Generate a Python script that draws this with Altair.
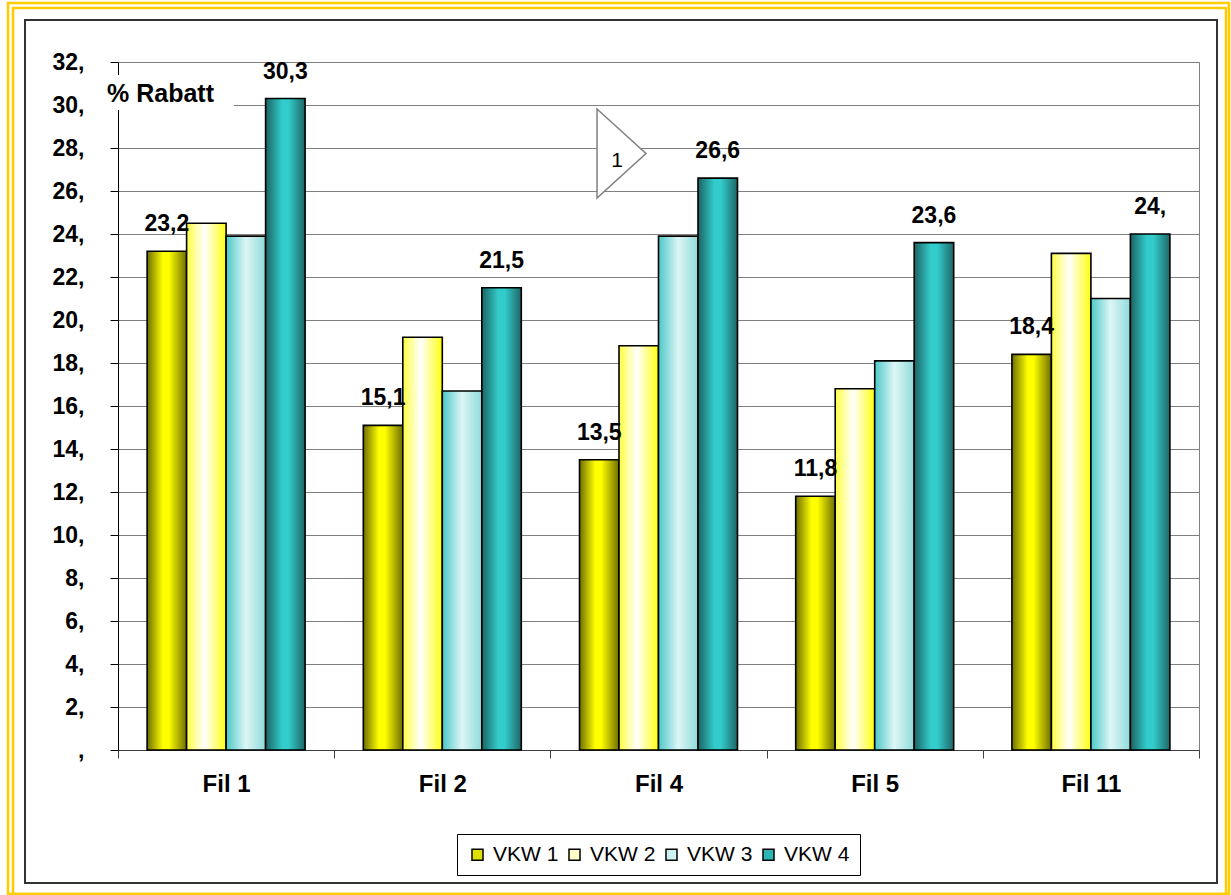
import altair as alt
import pandas as pd

# Discount per branch and calendar week
groups = ["Fil 1", "Fil 2", "Fil 4", "Fil 5", "Fil 11"]
series = ["VKW 1", "VKW 2", "VKW 3", "VKW 4"]
vkw1 = [23.2, 15.1, 13.5, 11.8, 18.4]
vkw2 = [24.5, 19.2, 18.8, 16.8, 23.1]
vkw3 = [23.9, 16.7, 23.9, 18.1, 21.0]
vkw4 = [30.3, 21.5, 26.6, 23.6, 24.0]
labelled = ["VKW 1", "VKW 4"]
y_ticks = list(range(0, 33, 2))

legend_colors = ["#E0E000", "#FFFFC8", "#CCF2F2", "#2BB5B5"]
gradients = {
    "VKW 1": [(0, "#6E6E00"), (0.4, "#FFFF00"), (0.55, "#FFFF00"), (1, "#6E6E00")],
    "VKW 2": [(0, "#FFFF40"), (0.45, "#FFFFFF"), (1, "#FFFF10")],
    "VKW 3": [(0, "#4CC8C8"), (0.5, "#DDF6F6"), (1, "#8FDADA")],
    "VKW 4": [(0, "#1C6363"), (0.42, "#33CCCC"), (0.58, "#33CCCC"), (1, "#1F6666")],
}

rows = []
for s, vals in zip(series, [vkw1, vkw2, vkw3, vkw4]):
    for g, v in zip(groups, vals):
        rows.append({"fil": g, "series": s, "value": v})
df = pd.DataFrame(rows)

FONT = "Liberation Sans"

x_enc = alt.X(
    "fil:N",
    sort=groups,
    scale=alt.Scale(paddingInner=0, paddingOuter=0),
    axis=alt.Axis(
        title=None, labelAngle=0, tickBand="extent", tickSize=8,
        tickColor="#404040", domainColor="#404040", grid=False,
        labelFont=FONT, labelFontSize=24, labelFontWeight="bold",
        labelColor="black", labelPadding=14,
    ),
)
xo_enc = alt.XOffset(
    "series:N", sort=series,
    scale=alt.Scale(domain=series, paddingInner=0, paddingOuter=0.737),
)
y_enc = alt.Y(
    "value:Q",
    scale=alt.Scale(domain=[0, 32], nice=False),
    axis=alt.Axis(
        title=None, values=y_ticks,
        labelExpr="datum.value == 0 ? ',' : datum.value + ','",
        grid=True, gridColor="#808080", gridWidth=1,
        domainColor="black", tickColor="black", tickSize=8,
        labelFont=FONT, labelFontSize=23, labelFontWeight="bold",
        labelColor="black", labelPadding=26,
    ),
)

base = alt.Chart(df)

# invisible bars carrying the colour legend
legend_layer = base.mark_bar(opacity=0).encode(
    x=x_enc, xOffset=xo_enc, y=y_enc,
    color=alt.Color(
        "series:N",
        scale=alt.Scale(domain=series, range=legend_colors),
        legend=alt.Legend(
            title=None, orient="none", legendX=339, legendY=772,
            direction="horizontal", strokeColor="black", fillColor="white",
            padding=10, symbolType="square", symbolSize=121,
            symbolStrokeColor="black", symbolStrokeWidth=1.5, symbolOpacity=1,
            labelFont=FONT, labelFontSize=21, labelColor="black",
            labelOffset=5, columnPadding=5,
        ),
    ),
)

bar_layers = []
for s in series:
    grad = alt.Gradient(
        gradient="linear", x1=0, x2=1, y1=0, y2=0,
        stops=[alt.GradientStop(offset=o, color=c) for o, c in gradients[s]],
    )
    bar_layers.append(
        base.transform_filter(alt.datum.series == s)
        .mark_bar(fill=grad, stroke="black", strokeWidth=1.6)
        .encode(x=x_enc, xOffset=xo_enc, y=y_enc)
    )

labels = (
    base.transform_filter(alt.FieldOneOfPredicate(field="series", oneOf=labelled))
    .transform_calculate(
        label="floor(datum.value) == datum.value ? datum.value + ',' : "
              "replace(format(datum.value, '.1f'), '.', ',')"
    )
    .mark_text(font=FONT, fontSize=23, fontWeight="bold", color="black",
               baseline="alphabetic", dy=-20)
    .encode(x=x_enc, xOffset=xo_enc, y=y_enc, text="label:N")
)

one = alt.InlineData(values=[{"k": 1}])

# page decoration: double gold border and dark inner frame
def frame(x, x2, y, y2, color, width):
    return alt.Chart(one).mark_rect(
        fillOpacity=0, stroke=color, strokeWidth=width
    ).encode(x=alt.value(x), x2=alt.value(x2), y=alt.value(y), y2=alt.value(y2))

frames = [
    frame(-110, 1111, -59, 832, "#FFCC00", 2.5),
    frame(-105, 1108, -54, 832, "#FFCC00", 2.5),
    frame(-93, 1099, -42, 821, "#333333", 2),
]

# axis caption on a white patch
caption_bg = alt.Chart(one).mark_rect(fill="white").encode(
    x=alt.value(-18), x2=alt.value(116), y=alt.value(13), y2=alt.value(48)
)
caption = alt.Chart(one).mark_text(
    text="% Rabatt", font=FONT, fontSize=25, fontWeight="bold", color="black",
    align="left", baseline="alphabetic",
).encode(x=alt.value(-11), y=alt.value(40))

# callout marker
marker = alt.Chart(one).mark_point(
    shape="M -0.55 -1 L 0.55 0 L -0.55 1 Z", size=7921, filled=True,
    fill="white", stroke="#808080", strokeWidth=1.5, opacity=1,
).encode(x=alt.value(503.5), y=alt.value(91.5))
marker_text = alt.Chart(one).mark_text(
    text="1", font=FONT, fontSize=21, color="black", align="center",
    baseline="middle",
).encode(x=alt.value(499), y=alt.value(99))

chart = (
    alt.layer(
        *frames, legend_layer, *bar_layers, labels,
        caption_bg, caption, marker, marker_text,
    )
    .properties(
        width=1081, height=688,
        autosize=alt.AutoSizeParams(type="none"),
        padding={"left": 118, "top": 62, "right": 32, "bottom": 145},
        background="white",
    )
    .configure_view(stroke="#808080", strokeWidth=1)
)

chart.save("out.html", embed_options={"renderer": "svg", "actions": False})
